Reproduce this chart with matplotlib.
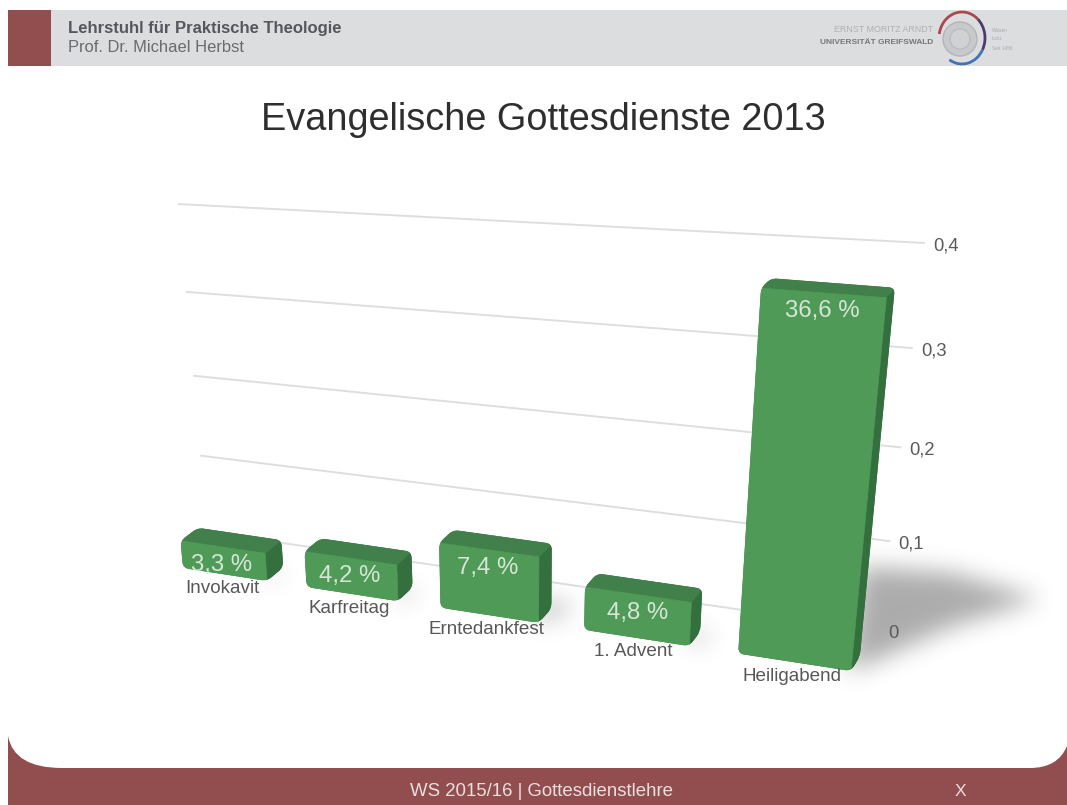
import matplotlib
matplotlib.use('Agg')
import matplotlib.pyplot as plt
from matplotlib.patches import Polygon, Rectangle, PathPatch, Arc, Circle
from matplotlib.path import Path
import numpy as np

plt.rcParams['font.family'] = ['Liberation Sans', 'DejaVu Sans']

# ============================================# data
categories = ['Invokavit', 'Karfreitag', 'Erntedankfest', '1. Advent', 'Heiligabend']
shares = [3.3, 4.2, 7.4, 4.8, 36.6]
tick_values = [0, 0.1, 0.2, 0.3, 0.4]
tick_labels = ['0', '0,1', '0,2', '0,3', '0,4']

title = 'Evangelische Gottesdienste 2013'
header_bold = 'Lehrstuhl für Praktische Theologie'
header_plain = 'Prof. Dr. Michael Herbst'
footer = 'WS 2015/16 | Gottesdienstlehre'

RED = '#924d4f'
GREY = '#dcdddf'
GREEN_FRONT = '#4e9a56'
GREEN_TOP = '#41804b'
GREEN_SIDE = '#33703e'
BAR_GAP = 0.155


# perspective mapping from a unit square onto four screen corners
def homography(corners):
    src = [(0, 0), (1, 0), (0, 1), (1, 1)]
    A = []
    b = []
    for (u, v), (x, y) in zip(src, corners):
        A.append([u, v, 1, 0, 0, 0, -u * x, -v * x])
        A.append([0, 0, 0, u, v, 1, -u * y, -v * y])
        b += [x, y]
    h = np.linalg.solve(np.array(A, float), np.array(b, float))
    return np.append(h, 1).reshape(3, 3)


def apply_h(H, u, v):
    p = H @ np.array([u, v, 1.0])
    return p[0] / p[2], p[1] / p[2]


# wall carrying the grid lines, and the plane of the bar fronts
wall = homography([(207, 532), (880, 630), (178, 204), (925, 243)])
front = homography([(183, 568), (851, 671), (150, 208), (890, 259)])


def wall_pt(t, value):
    return apply_h(wall, t, value / 0.4)


def front_pt(slot, value):
    t = (slot - BAR_GAP) / (len(categories) - 2 * BAR_GAP)
    return apply_h(front, t ** 1.015, value / 0.4)


# depth lines run towards one vanishing point
def back_of(pt):
    vp = np.array([1565.0, -500.0])
    p = np.array(pt)
    return tuple(p + 0.0125 * (vp - p))


# closed path with rounded corners
def rounded_path(pts, radius):
    pts = [np.array(p, float) for p in pts]
    n = len(pts)
    verts = []
    codes = []
    for i, p in enumerate(pts):
        a = pts[i - 1]
        b = pts[(i + 1) % n]
        ra = min(radius, 0.45 * np.linalg.norm(a - p))
        rb = min(radius, 0.45 * np.linalg.norm(b - p))
        start = p + ra * (a - p) / np.linalg.norm(a - p)
        end = p + rb * (b - p) / np.linalg.norm(b - p)
        verts += [start, p, end]
        codes += [Path.MOVETO if i == 0 else Path.LINETO, Path.CURVE3, Path.CURVE3]
    verts.append(verts[0])
    codes.append(Path.CLOSEPOLY)
    return Path(verts, codes)


def gauss_blur(a, sigma):
    r = int(3 * sigma)
    k = np.exp(-0.5 * (np.arange(-r, r + 1) / sigma) ** 2)
    k /= k.sum()
    a = np.apply_along_axis(lambda m: np.convolve(m, k, mode='same'), 0, a)
    a = np.apply_along_axis(lambda m: np.convolve(m, k, mode='same'), 1, a)
    return a


fig = plt.figure(figsize=(10.67, 8.05), dpi=100)
ax = fig.add_axes([0, 0, 1, 1])
W, H = 1067, 805

# ============================================# slide frame
ax.add_patch(Rectangle((8, 10), W - 8, 56, fc=GREY, ec='none', zorder=1))
ax.add_patch(Rectangle((8, 10), 43, 56, fc=RED, ec='none', zorder=2))
ax.text(68, 28, header_bold, fontsize=12, fontweight='bold', color='#55575c', va='center', zorder=3)
ax.text(68, 48, header_plain, fontsize=11.9, color='#6a6b6e', va='center', zorder=3)

verts = [(8, 736), (14, 768), (62, 768), (1030, 768), (1058, 768), (W, 746), (W, H), (8, H), (8, 736)]
codes = [Path.MOVETO, Path.CURVE3, Path.CURVE3, Path.LINETO, Path.CURVE3, Path.CURVE3,
         Path.LINETO, Path.LINETO, Path.CLOSEPOLY]
ax.add_patch(PathPatch(Path(verts, codes), fc=RED, ec='none', zorder=1))
ax.text(542, 791, footer, fontsize=13.4, color='#eadfdf', ha='center', va='center', zorder=3)
ax.text(960, 791, 'X', fontsize=12.5, color='#eadfdf', ha='center', va='center', zorder=3)

# university logo in the header
ax.text(933, 30, 'ERNST MORITZ ARNDT', fontsize=6.4, color='#b0b1b4', ha='right', va='center', zorder=3)
ax.text(933, 43, 'UNIVERSITÄT GREIFSWALD', fontsize=6.0, color='#77787c', fontweight='bold',
        ha='right', va='center', zorder=3)
ax.add_patch(Circle((960, 39), 17, fc='#c8c9cc', ec='#b4b5b8', lw=1, zorder=3))
ax.add_patch(Circle((960, 39), 10, fc='#d0d1d3', ec='#bcbdc0', lw=1, zorder=3))
ax.add_patch(Arc((962, 38), 46, 52, theta1=190, theta2=310, color='#a8494f', lw=2, zorder=3))
ax.add_patch(Arc((962, 38), 46, 52, theta1=310, theta2=30, color='#4a3d6e', lw=2, zorder=3))
ax.add_patch(Arc((962, 38), 46, 52, theta1=30, theta2=120, color='#3f73b5', lw=2, zorder=3))
for yy, s in zip([30, 39, 48], ['Wissen', 'lockt.', 'Seit 1456']):
    ax.text(992, yy, s, fontsize=3.4, color='#a9aaad', va='center', zorder=3)

ax.text(543, 120, title, fontsize=27.3, color='#2e2e2e', ha='center', va='center', zorder=3)

# ============================================# grid lines and value axis
for val, lab in zip(tick_values, tick_labels):
    x0, y0 = wall_pt(0, val)
    x1, y1 = wall_pt(1, val)
    # the zero line stops behind the last bar
    xe, ye = wall_pt(0.95 if val == 0 else 1, val)
    ax.plot([x0, xe], [y0, ye], color='#dedede', lw=1.4, zorder=4, solid_capstyle='butt')
    ax.text(x1 + 8, y1 + 3, lab, fontsize=13.2, color='#5a5a5a', ha='left', va='center', zorder=9)

# ============================================# soft ground shadows
gx, gy = np.meshgrid(np.arange(W) + 0.5, np.arange(H) + 0.5)
grid_pts = np.column_stack([gx.ravel(), gy.ravel()])
shadow_shape = np.array([(10, -104), (100, -98), (190, -72), (100, -44), (10, -4), (-4, 0)], float)
mask = np.zeros((H, W))
for i, s in enumerate(shares):
    fr = np.array(front_pt(i + 1 - BAR_GAP, 0))
    poly = fr + shadow_shape * (s / max(shares))
    mask = np.maximum(mask, Path(poly).contains_points(grid_pts).reshape(H, W).astype(float))
alpha = gauss_blur(mask, 12) * 0.33
rgba = np.zeros((H, W, 4))
rgba[..., 3] = alpha
ax.imshow(rgba, extent=(0, W, H, 0), aspect='auto', zorder=5, interpolation='bilinear')

# ============================================# bars
for i, (name, s) in enumerate(zip(categories, shares)):
    v = s / 100.0
    fl0 = front_pt(i + BAR_GAP, 0)
    fr0 = front_pt(i + 1 - BAR_GAP, 0)
    fl1 = front_pt(i + BAR_GAP, v)
    fr1 = front_pt(i + 1 - BAR_GAP, v)
    outline = [fl0, fr0, back_of(fr0), back_of(fr1), back_of(fl1), fl1]
    body = PathPatch(rounded_path(outline, 6), fc=GREEN_TOP, ec='none', zorder=6)
    ax.add_patch(body)
    side = [fr0, fr1, back_of(fr1), back_of(fr0)]
    top = [fl1, fr1, back_of(fr1), back_of(fl1)]
    face = [fl0, fr0, fr1, fl1]
    for pts, col in [(side, GREEN_SIDE), (top, GREEN_TOP), (face, GREEN_FRONT)]:
        poly = Polygon(pts, closed=True, fc=col, ec=col, lw=0.5, zorder=6.5)
        ax.add_patch(poly)
        poly.set_clip_path(body)

    cx = (fl1[0] + fr1[0]) / 2
    cy = (fl1[1] + fr1[1]) / 2
    label = f'{s:.1f}'.replace('.', ',') + ' %'
    ax.text(cx - 1, cy + 18, label, fontsize=17.3, color='#d6e6d6', ha='center', va='center', zorder=8)

    bx = (fl0[0] + fr0[0]) / 2
    by = (fl0[1] + fr0[1]) / 2
    ax.text(bx - 3, by + 14, name, fontsize=13.6, color='#585858', ha='center', va='center', zorder=8)

ax.set_xlim(0, W)
ax.set_ylim(H, 0)
ax.axis('off')
plt.savefig('out.png', dpi=100)
